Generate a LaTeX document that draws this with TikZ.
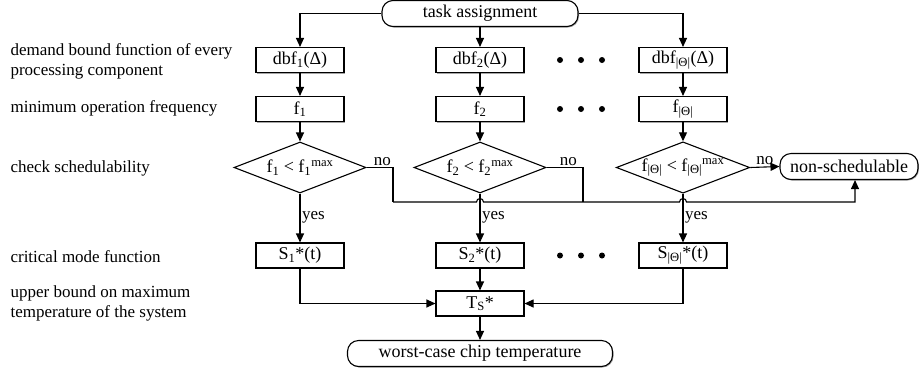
\documentclass[tikz,border=0pt]{standalone}
\usepackage{fontspec}
\setmainfont{Liberation Serif}
\usetikzlibrary{arrows.meta,shapes.geometric,shadows}
\begin{document}
\begin{tikzpicture}[x=1pt,y=-1pt,
  every path/.style={line width=1.1pt},
  arr/.style={-{Triangle[length=9pt,width=8pt]}},
  procbox/.style={draw,fill=white,minimum width=88pt,minimum height=25pt,inner sep=1pt,
    font=\fontsize{18}{20}\selectfont,
    drop shadow={shadow xshift=1pt,shadow yshift=-1pt,fill=black!35,opacity=1}},
  termbox/.style={draw,fill=white,rounded corners=11pt,minimum height=26pt,inner xsep=10pt,
    font=\fontsize{18}{20}\selectfont,
    drop shadow={shadow xshift=1pt,shadow yshift=-1pt,fill=black!35,opacity=1}},
  decbox/.style={draw,fill=white,diamond,aspect=2.6,inner sep=0.5pt,minimum width=132pt,minimum height=51pt,
    font=\fontsize{18}{20}\selectfont},
  lbl/.style={anchor=west,align=left,inner sep=0pt,font=\fontsize{17}{20}\selectfont},
  small/.style={inner sep=1.5pt,font=\fontsize{17}{20}\selectfont},
  dot/.style={circle,fill=black,inner sep=0pt,minimum size=6pt}
]
\useasboundingbox (0,0) rectangle (920,373);

% left labels
\node[lbl] (l1) at (10,61) {demand bound function of every\\processing component};
\node[lbl] (l2) at (10,108) {minimum operation frequency};
\node[lbl] (l3) at (10,168) {check schedulability};
\node[lbl] (l4) at (10,257) {critical mode function};
\node[lbl] (l5) at (10,303) {upper bound on maximum\\temperature of the system};

% nodes
\node[termbox,minimum width=196pt] (ta) at (480,13.5) {task assignment};

\node[procbox] (b1) at (300,60) {dbf\textsubscript{1}(Δ)};
\node[procbox] (b2) at (480,60) {dbf\textsubscript{2}(Δ)};
\node[procbox] (b3) at (683,60) {dbf\textsubscript{|Θ|}(Δ)};

\node[procbox] (f1) at (300,109) {f\textsubscript{1}};
\node[procbox] (f2) at (480,109) {f\textsubscript{2}};
\node[procbox] (f3) at (683,109) {f\textsubscript{|Θ|}};

\node[decbox] (d1) at (300,167.5) {f\textsubscript{1} < f\textsubscript{1}\textsuperscript{max}};
\node[decbox] (d2) at (480,167.5) {f\textsubscript{2} < f\textsubscript{2}\textsuperscript{max}};
\node[decbox] (d3) at (683,167.5) {f\textsubscript{|Θ|} < f\textsubscript{|Θ|}\textsuperscript{max}};

\node[termbox,minimum width=132pt] (ns) at (849,166.5) {non-schedulable};

\node[procbox] (s1) at (300,255.5) {S\textsubscript{1}*(t)};
\node[procbox] (s2) at (480,255.5) {S\textsubscript{2}*(t)};
\node[procbox] (s3) at (683,255.5) {S\textsubscript{|Θ|}*(t)};

\node[procbox] (ts) at (480,303.5) {T\textsubscript{S}*};

\node[termbox,minimum width=265pt] (wc) at (480,353.5) {worst-case chip temperature};

% dots
\foreach \yy/\nm in {60/A,109/B,255.5/C}{
  \node[dot] (dot\nm1) at (560,\yy) {};
  \node[dot] (dot\nm2) at (581,\yy) {};
  \node[dot] (dot\nm3) at (602,\yy) {};
}

% connectors top
\draw[arr] (ta.west) -| (b1.north);
\draw[arr] (ta.east) -| (b3.north);
\draw[arr] (ta.south) -- (b2.north);
\foreach \i in {1,2,3}{
  \draw[arr] (b\i.south) -- (f\i.north);
  \draw[arr] (f\i.south) -- (d\i.north);
  \draw[arr] (d\i.south) -- node[small,right,pos=0.48]{yes} (s\i.north);
}

% no branches
\coordinate (j1) at (393,202);
\coordinate (j2) at (583,202);
\draw (d1.east) -| node[small,above,pos=0.3]{no} (j1);
\draw (d2.east) -| node[small,above,pos=0.3]{no} (j2);
\draw[arr] (d3.east) -- node[small,above]{no} (ns.west);
\draw[arr] (j1) -- ([xshift=-3.5pt]j1 -| d2.south) arc[start angle=180,end angle=0,radius=3.5pt]
   -- ([xshift=-3.5pt]j1 -| d3.south) arc[start angle=180,end angle=0,radius=3.5pt]
   -- ([xshift=6pt]j1 -| ns.south) -- ([xshift=6pt]ns.south);

% bottom
\draw[arr] (s1.south) |- (ts.west);
\draw[arr] (s3.south) |- (ts.east);
\draw[arr] (s2.south) -- (ts.north);
\draw[arr] (ts.south) -- (wc.north);
\end{tikzpicture}
\end{document}
